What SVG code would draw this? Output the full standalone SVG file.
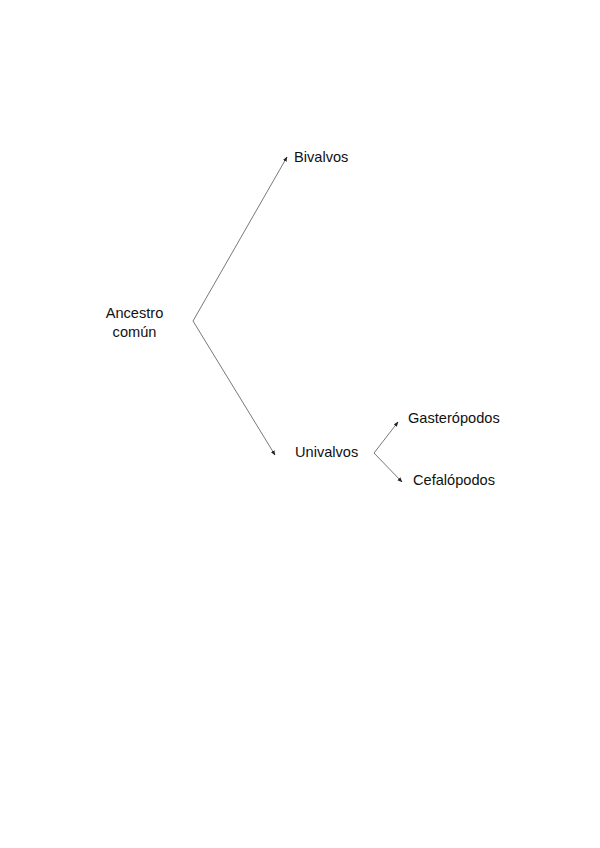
<svg xmlns="http://www.w3.org/2000/svg" width="600" height="848" viewBox="0 0 600 848">
<style>
text{font-family:"Liberation Sans",Arial,sans-serif;font-size:14.6px;fill:#111}
.c{fill:none;stroke:#555;stroke-width:0.8}
</style>
<defs>
<marker id="a" viewBox="0 0 10 10" refX="9" refY="5" markerWidth="5" markerHeight="5" orient="auto" markerUnits="userSpaceOnUse">
<path d="M0,1 L10,5 L0,9 z" fill="#222"/>
</marker>
</defs>
<rect width="600" height="848" fill="#fff"/>
<g id="connectors">
<path class="c" d="M193,321 L287,157" marker-end="url(#a)"/>
<path class="c" d="M193,321 L275,455" marker-end="url(#a)"/>
<path class="c" d="M374,453 L398,422" marker-end="url(#a)"/>
<path class="c" d="M374,453 L402,482" marker-end="url(#a)"/>
</g>
<g id="ancestro"><text x="134.5" y="318" text-anchor="middle">Ancestro</text><text x="134.5" y="337" text-anchor="middle">común</text></g>
<g id="bivalvos"><text x="294" y="162">Bivalvos</text></g>
<g id="univalvos"><text x="295" y="457">Univalvos</text></g>
<g id="gasteropodos"><text x="408" y="423">Gasterópodos</text></g>
<g id="cefalopodos"><text x="413" y="485">Cefalópodos</text></g>
</svg>
